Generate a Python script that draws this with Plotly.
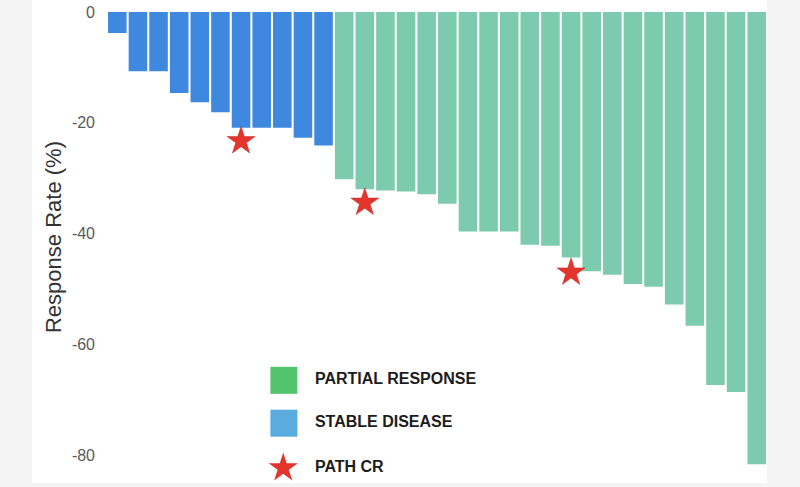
import plotly.graph_objects as go

# waterfall of best response per patient (sorted)
stable_disease = [-3.8, -10.7, -10.7, -14.6, -16.3, -18.1, -20.9, -20.9, -20.9, -22.7, -24.1]
partial_response = [-30.2, -32.0, -32.2, -32.4, -32.9, -34.6, -39.6, -39.6, -39.6, -42.0, -42.2,
                    -44.3, -46.8, -47.4, -49.1, -49.6, -52.8, -56.6, -67.3, -68.6, -81.6]

# patients with pathological complete response (index in the sorted list) and marker level
path_cr_idx = [6, 12, 22]
path_cr_val = [-23.3, -34.4, -47.0]

y_ticks = [0, -20, -40, -60, -80]
y_ticktext = ["0", "-20", "-40", "-60", "-80"]

legend_labels = ["PARTIAL RESPONSE", "STABLE DISEASE", "PATH CR"]
legend_colors = ["#52c46b", "#5aabe0", "#e3352c"]

sd_x = list(range(len(stable_disease)))
pr_x = list(range(len(stable_disease), len(stable_disease) + len(partial_response)))

fig = go.Figure()
fig.add_trace(go.Bar(x=sd_x, y=stable_disease, marker_color="#3f88e0",
                     marker_line_width=0, showlegend=False))
fig.add_trace(go.Bar(x=pr_x, y=partial_response, marker_color="#7ccbae",
                     marker_line_width=0, showlegend=False))
fig.add_trace(go.Scatter(x=path_cr_idx, y=path_cr_val, mode="markers",
                         marker=dict(symbol="star", size=21, color="#e3352c",
                                     line=dict(width=0.5, color="#c02820")),
                         showlegend=False))

# legend drawn on an overlay axis (0..1 in both directions)
leg_x = [0.268, 0.268, 0.267]
leg_y = [0.218, 0.127, 0.032]
fig.add_trace(go.Scatter(x=leg_x[:2], y=leg_y[:2], xaxis="x2", yaxis="y2", mode="markers",
                         marker=dict(symbol="square", size=27, color=legend_colors[:2]),
                         showlegend=False, hoverinfo="skip"))
fig.add_trace(go.Scatter(x=leg_x[2:], y=leg_y[2:], xaxis="x2", yaxis="y2", mode="markers",
                         marker=dict(symbol="star", size=22, color=legend_colors[2]),
                         showlegend=False, hoverinfo="skip"))
fig.add_trace(go.Scatter(x=[0.315] * 3, y=leg_y, xaxis="x2", yaxis="y2", mode="text",
                         text=["<b>%s</b>" % t for t in legend_labels],
                         textposition="middle right",
                         textfont=dict(family="Arial", size=16, color="#1c1c1c"),
                         showlegend=False, hoverinfo="skip"))

fig.update_layout(
    width=800, height=487,
    margin=dict(l=107, r=33, t=10, b=4),
    paper_bgcolor="#f4f4f4",
    plot_bgcolor="white",
    bargap=0.1,
    xaxis=dict(range=[-0.5, 31.5], showticklabels=False, showgrid=False,
               zeroline=False, showline=False),
    yaxis=dict(range=[-85, 0], tickvals=y_ticks, ticktext=y_ticktext, showgrid=False,
               zeroline=False, showline=False, ticklabelstandoff=11,
               tickfont=dict(family="Arial", size=16, color="#5a5a5a")),
    xaxis2=dict(domain=[0, 1], range=[0, 1], overlaying="x", visible=False, fixedrange=True),
    yaxis2=dict(domain=[0, 1], range=[0, 1], overlaying="y", visible=False, fixedrange=True),
    shapes=[dict(type="rect", xref="paper", yref="paper", x0=-0.1136, x1=1.0, y0=0, y1=1.03,
                 fillcolor="white", line_width=0, layer="below")],
    annotations=[dict(text="Response Rate (%)", xref="paper", yref="paper",
                      x=-0.082, y=0.522, textangle=-90, showarrow=False,
                      xanchor="center", yanchor="middle",
                      font=dict(family="Arial", size=22, color="#333333"))],
)

# page body has a default 8px margin; drop it so the figure fills the window
fig.write_html("out.html", config={"displayModeBar": False},
               post_script="document.body.style.margin='0px';")
